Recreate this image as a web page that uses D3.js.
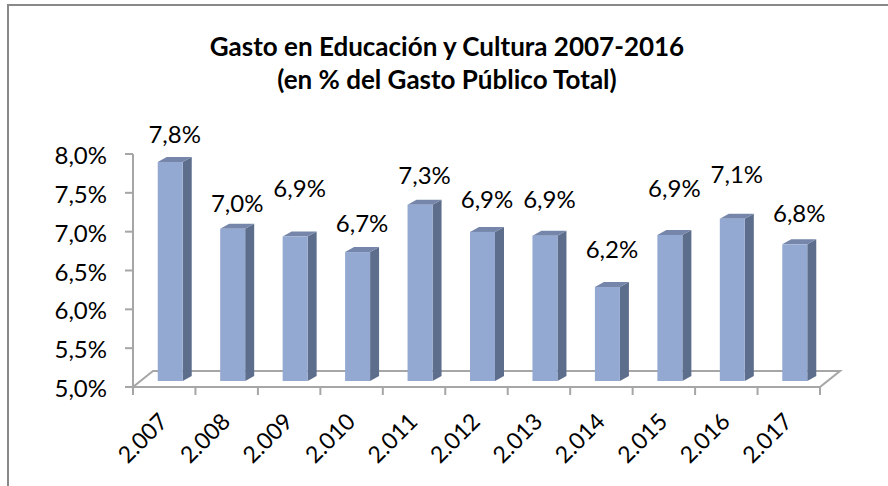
<!DOCTYPE html>
<html>
<head>
<meta charset="utf-8">
<script src="https://cdn.jsdelivr.net/npm/d3@7"></script>
<style>
  body { margin: 0; background: #fff; }
  svg { display: block; font-family: Lato, 'Open Sans', sans-serif; }
</style>
</head>
<body>
<svg id="chart" width="888" height="486"></svg>
<script>
const titleLines = ['Gasto en Educación y Cultura 2007-2016', '(en % del Gasto Público Total)'];
const years = ['2.007', '2.008', '2.009', '2.010', '2.011', '2.012', '2.013', '2.014', '2.015', '2.016', '2.017'];
const gasto = [7.82, 6.96, 6.86, 6.66, 7.27, 6.92, 6.87, 6.21, 6.88, 7.09, 6.76];
const yTicks = [5.0, 5.5, 6.0, 6.5, 7.0, 7.5, 8.0];

// label lift above each bar top (as placed in the original)
const labelLift = [19, 17, 40, 20, 21, 24, 28, 29, 38, 36, 22];

const svg = d3.select('#chart');
const esLocale = d3.formatLocale({decimal: ',', thousands: '.', grouping: [3], currency: ['', '€']});
const fmt = esLocale.format('.1f');

const depth = {x: 20, y: -16};     // floor depth
const barDepth = {x: 9, y: -5};
const barInset = 6;                 // bars sit this far back from the front edge
const barW = 25;

let xScale = d3.scaleBand()
               .domain(years)
               .range([133, 820])
               .padding(0);
let yScale = d3.scaleLinear()
               .domain([5, 8])
               .range([387, 154]);

// frame
svg.append('rect')
   .attr('x', 8)
   .attr('y', 5)
   .attr('width', 900)
   .attr('height', 500)
   .attr('fill', 'none')
   .attr('stroke', '#898989')
   .attr('stroke-width', 2);

// title
svg.selectAll('.title')
   .data(titleLines)
   .enter()
   .append('text')
   .attr('class', 'title')
   .attr('x', 447)
   .attr('y', function(d, i){ return 56 + i*33; })
   .attr('text-anchor', 'middle')
   .attr('font-size', '26px')
   .attr('font-weight', 'bold')
   .attr('fill', '#000')
   .text(function(d){ return d; });

// floor
const y0 = yScale(5);
const xl = xScale.range()[0], xr = xScale.range()[1];
svg.append('path')
   .attr('d', `M${xl},${y0} L${xr},${y0} L${xr+depth.x},${y0+depth.y} L${xl+depth.x},${y0+depth.y} Z`)
   .attr('fill', 'none')
   .attr('stroke', '#a6a6a6')
   .attr('stroke-width', 2);

// value axis
svg.append('line')
   .attr('x1', xl)
   .attr('y1', yScale(8))
   .attr('x2', xl)
   .attr('y2', y0)
   .attr('stroke', '#a6a6a6')
   .attr('stroke-width', 2);
for(let t of yTicks){
  svg.append('line')
     .attr('x1', xl - 8)
     .attr('y1', yScale(t))
     .attr('x2', xl)
     .attr('y2', yScale(t))
     .attr('stroke', '#a6a6a6')
     .attr('stroke-width', 2);
  svg.append('text')
     .attr('x', 107)
     .attr('y', yScale(t) + 10)
     .attr('text-anchor', 'end')
     .attr('font-size', '24px')
     .attr('fill', '#000')
     .text(fmt(t) + '%');
}

// category ticks
const tickXs = years.map(function(d){ return xScale(d); }).concat([xr]);
for(let tx of tickXs){
  svg.append('line')
     .attr('x1', tx)
     .attr('y1', y0)
     .attr('x2', tx)
     .attr('y2', y0 + 8)
     .attr('stroke', '#a6a6a6')
     .attr('stroke-width', 2);
}

// bars
const bottom = y0 - barInset;
function barTop(d){ return yScale(d) - barInset; }
function barX(d, i){ return xScale(years[i]) + xScale.bandwidth()/2 + barInset - barW/2; }

const bars = svg.selectAll('.bar')
   .data(gasto)
   .enter()
   .append('g')
   .attr('class', 'bar');

bars.append('path')
   .attr('d', function(d, i){
     let x = barX(d, i) + barW, t = barTop(d);
     return `M${x},${t} L${x+barDepth.x},${t+barDepth.y} L${x+barDepth.x},${bottom+barDepth.y} L${x},${bottom} Z`;
   })
   .attr('fill', '#5d6d8c');
bars.append('path')
   .attr('d', function(d, i){
     let x = barX(d, i), t = barTop(d);
     return `M${x},${t} L${x+barDepth.x},${t+barDepth.y} L${x+barW+barDepth.x},${t+barDepth.y} L${x+barW},${t} Z`;
   })
   .attr('fill', '#7586aa');
bars.append('rect')
   .attr('x', barX)
   .attr('y', barTop)
   .attr('width', barW)
   .attr('height', function(d){ return bottom - barTop(d); })
   .attr('fill', '#94a9d2');

// value labels
bars.append('text')
   .attr('x', function(d, i){ return barX(d, i) + (barW + barDepth.x)/2; })
   .attr('y', function(d, i){ return barTop(d) - labelLift[i]; })
   .attr('text-anchor', 'middle')
   .attr('font-size', '24px')
   .attr('fill', '#000')
   .text(function(d){ return fmt(d) + '%'; });

// category labels
svg.selectAll('.xlab')
   .data(years)
   .enter()
   .append('text')
   .attr('class', 'xlab')
   .attr('transform', function(d){
     return `translate(${xScale(d) + xScale.bandwidth()/2 + 5},${y0 + 36}) rotate(-45)`;
   })
   .attr('text-anchor', 'end')
   .attr('font-size', '23px')
   .attr('fill', '#000')
   .text(function(d){ return d; });
</script>
</body>
</html>
